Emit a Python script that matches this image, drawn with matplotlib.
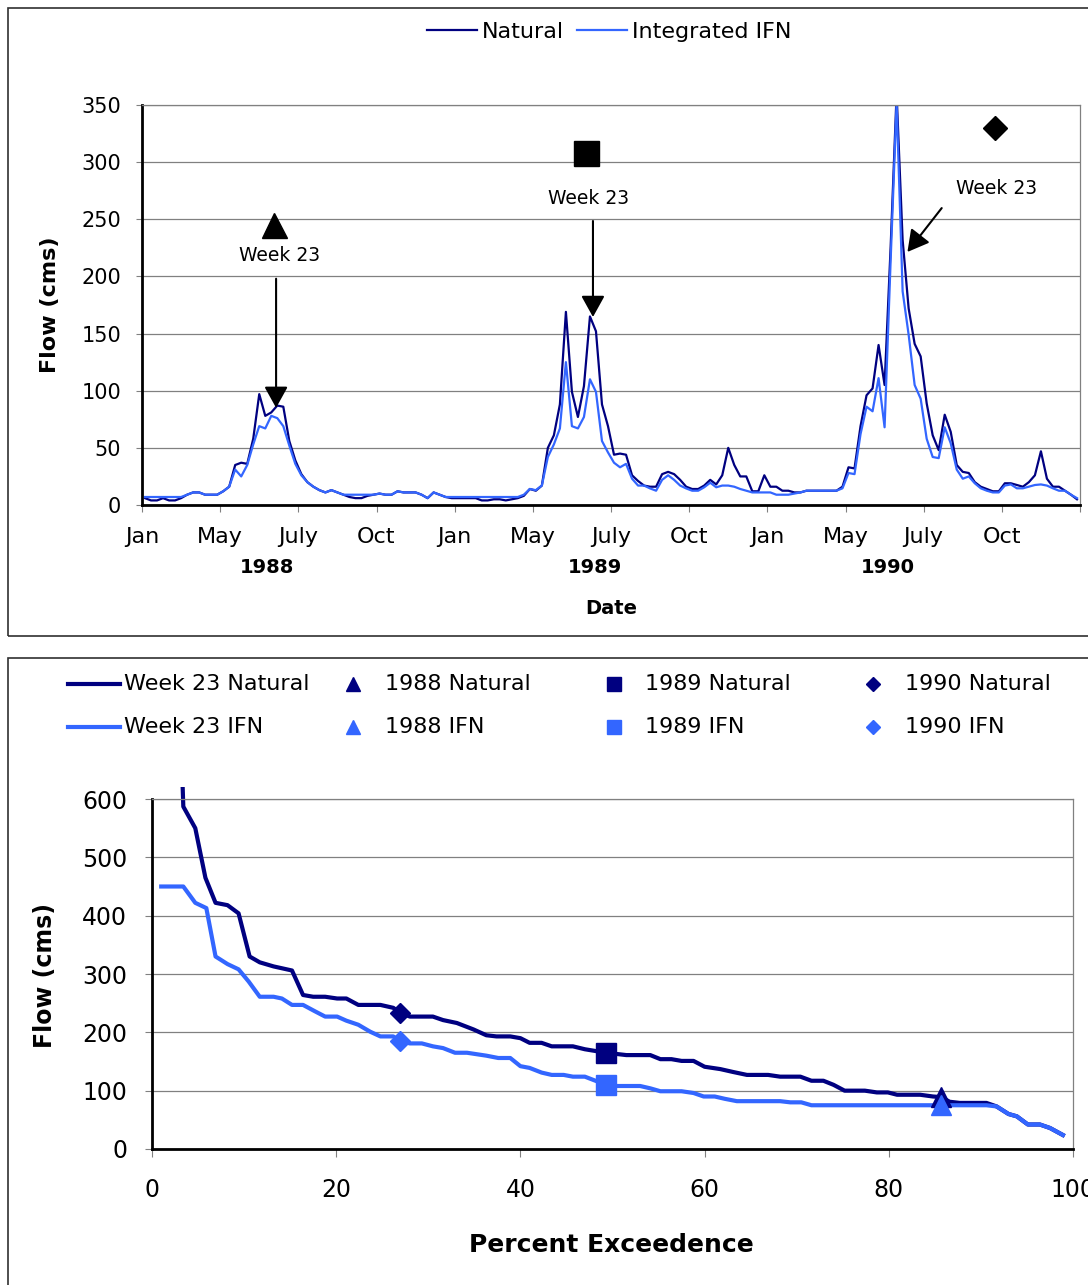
import matplotlib.pyplot as plt
from matplotlib.patches import Rectangle
from matplotlib.lines import Line2D

W, H = 1088, 1285
NAVY = '#000080'
BLUE = '#3366ff'
GRID = '#808080'

# weekly flow (cms), Jan 1988 - Dec 1990, one value per week
natural = [6, 4, 4, 6, 4, 4, 6, 9, 11, 11, 9, 9, 9, 12, 16, 35, 37, 36, 58, 97,
           78, 81, 87, 86, 56, 39, 27, 20, 16, 13, 11, 13, 11, 9, 7, 6, 6, 8, 9, 10,
           9, 9, 12, 11, 11, 11, 9, 6, 11, 9, 7, 6,
           6, 6, 6, 6, 4, 4, 5, 5, 4, 5, 6, 8, 14, 12.5, 17, 50, 61, 88, 169, 99,
           77, 104, 165, 152, 88, 69, 44, 45, 44, 26, 21, 17, 16, 16, 27, 29, 27, 22,
           16, 14, 14, 17, 22, 18, 26, 50, 35, 25, 25, 12, 12, 26,
           16, 16, 12.5, 12.5, 11, 11, 12.5, 12.5, 12.5, 12.5, 12.5, 12.5, 16, 33, 32, 69,
           96, 102, 140, 105, 225, 360, 232, 172, 141, 130, 89, 61, 48, 79, 64, 35, 29, 28,
           20, 16, 14, 12, 12, 19, 19, 17.5, 16, 20, 26, 47, 23, 16, 16, 12.5, 9, 5]
ifn = [7, 7, 7, 7, 7, 7, 7, 9, 11, 11, 9, 9, 9, 12, 16, 31, 25, 35, 53, 69,
       67, 78, 76, 69, 52, 36, 26, 20, 16, 13, 11, 13, 11, 9, 9, 9, 9, 9, 9, 10,
       9, 9, 12, 11, 11, 11, 9, 6, 11, 9, 7, 7,
       7, 7, 7, 7, 7, 7, 7, 7, 7, 7, 7, 9, 14, 13, 17, 42, 53, 67, 125, 69,
       67, 77, 110, 99, 56, 46, 37, 33, 36, 23, 17, 17, 14.5, 12.5, 22, 26, 22, 17,
       14.5, 12.5, 12.5, 15.5, 19.5, 15.5, 17, 17, 16, 14, 12.5, 11, 11, 11,
       11, 9, 9, 9, 10, 11, 12.5, 12.5, 12.5, 12.5, 12.5, 12.5, 14.6, 28, 27, 62,
       86, 82, 111, 68, 213, 352, 187, 149, 105, 93, 58, 42, 41, 68, 54, 31, 23, 25,
       19, 14.6, 12.5, 11, 11, 17, 18, 14.6, 14.6, 16, 17.5, 18, 17, 14.6, 12.5, 12.5, 9, 6]
weeks = list(range(len(natural)))

month_labels = ['Jan', 'May', 'July', 'Oct'] * 3
year_labels = ['1988', '1989', '1990']
year_pos = [20.3, 74.8, 123.5]

# week 23 symbols above each year's peak
sym_week = [21.5, 73.3, 141.3]
sym_flow = [245, 308, 330]
sym_marker = ['^', 's', 'D']
sym_size = [18, 18, 12.5]

# week 23 flow duration curves
pct_nat = [2.1, 3.4, 4.7, 5.8, 6.9, 8.2, 9.4, 10.6, 11.7, 13.2, 15.2, 16.4, 17.5, 18.8,
           20.1, 21.1, 22.4, 24.8, 26.2, 26.9, 28.0, 30.5, 31.6, 33.1, 34.9, 36.3, 37.4,
           38.9, 40.0, 41.0, 42.3, 43.4, 45.7, 47.0, 49.3, 51.5, 54.1, 55.2, 56.4, 57.5,
           58.8, 60.0, 61.7, 63.1, 64.6, 66.9, 68.2, 70.4, 71.6, 72.9, 74.0, 75.2, 77.4,
           78.7, 79.9, 80.9, 83.4, 84.8, 85.7, 86.6, 87.7, 90.6, 91.7, 93.0, 93.9, 95.1,
           96.4, 97.5, 98.9]
flow_nat = [1200, 587, 550, 465, 422, 418, 404, 330, 320, 313, 306, 264, 261, 261,
            258, 258, 247, 247, 242, 234, 227, 227, 221, 216, 205, 195, 193,
            193, 190, 182, 182, 176, 176, 171, 165, 161, 161, 154, 154, 151,
            151, 141, 137, 132, 127, 127, 124, 124, 117, 117, 110, 100, 100,
            97, 97, 93, 93, 90, 89, 81, 79, 79, 73, 60, 56, 42,
            42, 36, 24]
pct_ifn = [1.0, 3.4, 4.7, 5.9, 6.9, 8.2, 9.4, 10.5, 11.7, 13.2, 14.1, 15.2, 16.4, 17.7,
           18.8, 20.1, 21.1, 22.4, 23.7, 24.8, 26.2, 26.9, 28.0, 29.3, 30.5, 31.6, 32.9,
           34.2, 36.3, 37.6, 38.9, 40.0, 41.0, 42.3, 43.4, 44.7, 45.7, 47.0, 49.3, 50.5,
           53.0, 54.1, 55.2, 57.5, 58.8, 59.9, 61.1, 62.2, 63.5, 68.2, 69.3, 70.5, 71.6,
           90.6, 91.7, 93.0, 93.9, 95.1, 96.4, 97.5, 98.9]
flow_ifn = [450, 450, 422, 413, 330, 317, 308, 287, 261, 261, 258, 247, 247, 236,
            227, 227, 220, 213, 201, 193, 193, 185, 181, 181, 176, 173, 165,
            165, 160, 156, 156, 142, 139, 131, 127, 127, 124, 124, 110, 108,
            108, 104, 99, 99, 96, 90, 90, 86, 82, 82, 80, 80, 75,
            75, 73, 60, 56, 42, 42, 36, 24]
yr_pct = [85.7, 49.3, 26.9]
yr_nat = [89, 165, 234]
yr_ifn = [75, 110, 185]
yr_marker = ['^', 's', 'D']
yr_size = [14, 15, 10]


def fx(px):
    return px / W


def fy(py):
    return 1 - py / H


fig = plt.figure(figsize=(W / 100, H / 100), dpi=100)

# panel frames
fig.patches.append(Rectangle((fx(8), fy(636)), fx(1100 - 8), (636 - 8) / H,
                             transform=fig.transFigure, fill=False, ec='#303030', lw=1.2))
fig.patches.append(Rectangle((fx(8), fy(1320)), fx(1100 - 8), (1320 - 658) / H,
                             transform=fig.transFigure, fill=False, ec='#303030', lw=1.2))


def style(ax):
    ax.grid(axis='y', color=GRID, lw=0.9)
    ax.set_axisbelow(True)
    for s in ['left', 'bottom']:
        ax.spines[s].set_linewidth(2)
        ax.spines[s].set_color('black')
    for s in ['top', 'right']:
        ax.spines[s].set_linewidth(0.9)
        ax.spines[s].set_color(GRID)
    ax.tick_params(color=GRID, labelcolor='black')


# ---- top: weekly hydrograph ----
ax1 = fig.add_axes([fx(142), fy(505), 938 / W, 400 / H])
l_nat, = ax1.plot(weeks, natural, color=NAVY, lw=1.6)
l_ifn, = ax1.plot(weeks, ifn, color=BLUE, lw=1.6)
ax1.set_xlim(-0.5, 155.5)
ax1.set_ylim(0, 350)
ax1.set_yticks(range(0, 351, 50))
ax1.set_xticks([-0.5 + 13 * k for k in range(13)])
ax1.set_xticklabels(month_labels + [''])
style(ax1)
ax1.tick_params(axis='y', length=4, pad=11, labelsize=15)
ax1.tick_params(axis='x', length=5, pad=11, labelsize=16)

for w, f, m, s in zip(sym_week, sym_flow, sym_marker, sym_size):
    ax1.plot(w, f, marker=m, ms=s, color='black', ls='none', clip_on=False)

arrow = dict(arrowstyle='-|>,head_length=0.65,head_width=0.36', color='black',
             lw=1.5, shrinkA=0, shrinkB=0, mutation_scale=20)
notes = [((22.3, 218), (21.8, 198), (21.8, 85)),
         ((73.7, 268.6), (74.5, 248.5), (74.5, 164.5)),
         ((141.7, 277), (132.5, 259.8), (126.8, 221.4))]
for txt, start, tip in notes:
    ax1.text(txt[0], txt[1], 'Week 23', ha='center', va='center', fontsize=13.5)
    ax1.annotate('', xy=tip, xytext=start, arrowprops=arrow)

for pos, lab in zip(year_pos, year_labels):
    ax1.text(pos, -0.1575, lab, transform=ax1.get_xaxis_transform(),
             ha='center', va='center', fontsize=14, fontweight='bold')

fig.text(fx(50), fy(305), 'Flow (cms)', rotation=90, ha='center', va='center',
         fontsize=16, fontweight='bold')
fig.text(fx(611), fy(608), 'Date', ha='center', va='center', fontsize=14, fontweight='bold')
fig.legend([l_nat, l_ifn], ['Natural', 'Integrated IFN'], loc='center',
           bbox_to_anchor=(fx(609), fy(32)), ncol=2, frameon=False, fontsize=16,
           handlelength=2.27, handletextpad=0.2, columnspacing=0.6, borderpad=0)

# ---- bottom: percent exceedence ----
ax2 = fig.add_axes([fx(152), fy(1149), 921 / W, 350 / H])
top_nat, = ax2.plot(pct_nat, flow_nat, color=NAVY, lw=3)
# the plot area runs a little above the 600 line, like the original
top_nat.set_clip_path(Rectangle((0, 0), 1, 1.035, transform=ax2.transAxes))
ax2.plot(pct_ifn, flow_ifn, color=BLUE, lw=3)
for p, v, m, s in zip(yr_pct, yr_nat, yr_marker, yr_size):
    ax2.plot(p, v, marker=m, ms=s, color=NAVY, ls='none')
for p, v, m, s in zip(yr_pct, yr_ifn, yr_marker, yr_size):
    ax2.plot(p, v, marker=m, ms=s, color=BLUE, ls='none')
ax2.set_xlim(0, 100)
ax2.set_ylim(0, 600)
ax2.set_yticks(range(0, 601, 100))
ax2.set_xticks(range(0, 101, 20))
style(ax2)
ax2.tick_params(axis='y', length=5, pad=13, labelsize=17)
ax2.tick_params(axis='x', length=6, pad=15, labelsize=17)

fig.text(fx(45), fy(975), 'Flow (cms)', rotation=90, ha='center', va='center',
         fontsize=17, fontweight='bold')
fig.text(fx(611), fy(1245), 'Percent Exceedence', ha='center', va='center',
         fontsize=18, fontweight='bold')

# bottom legend, laid out by hand in two rows
rows = [684, 727]
for r, (lab, col) in enumerate([('Natural', NAVY), ('IFN', BLUE)]):
    y = fy(rows[r])
    fig.add_artist(Line2D([fx(68), fx(120)], [y, y], color=col, lw=3,
                          transform=fig.transFigure))
    fig.text(fx(124), y, 'Week 23 ' + lab, va='center', fontsize=16)
    for mx, tx, yr, m, s in zip([353, 614, 873], [385, 645, 905], year_labels,
                                ['^', 's', 'D'], [10, 10, 7.5]):
        fig.add_artist(Line2D([fx(mx)], [y], marker=m, ms=s, color=col, ls='none',
                              transform=fig.transFigure))
        fig.text(fx(tx), y, yr + ' ' + lab, va='center', fontsize=16)

fig.savefig('out.png', dpi=100)
